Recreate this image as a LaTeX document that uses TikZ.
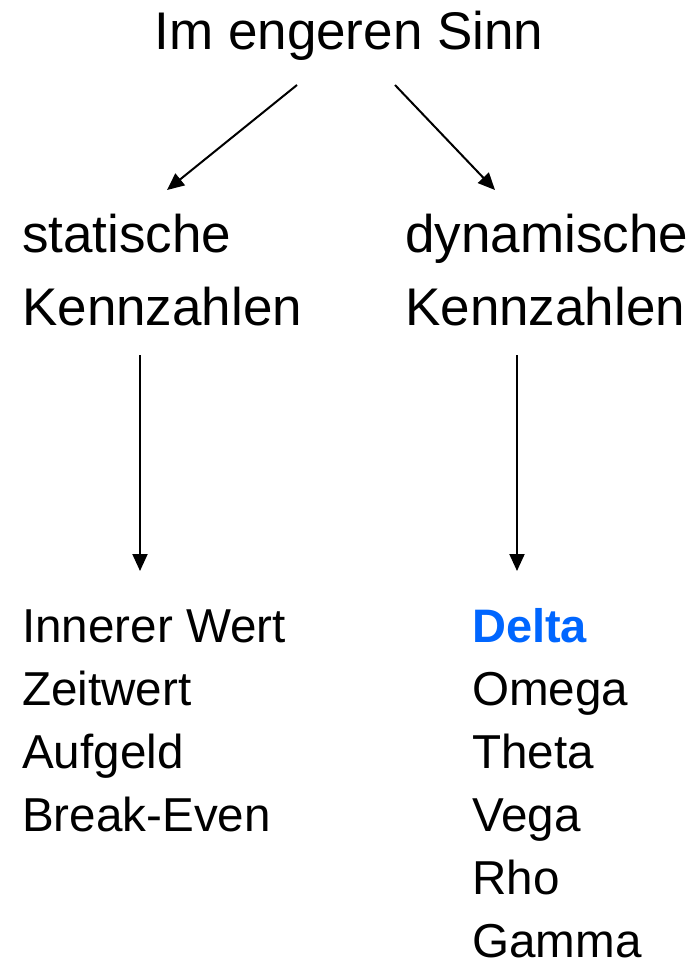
\documentclass[tikz,border=0pt]{standalone}
\usepackage{fontspec}
\setmainfont{Liberation Sans}
\usetikzlibrary{arrows.meta}
\definecolor{deltablue}{RGB}{0,102,255}
\tikzset{
  txt/.style={anchor=base west,inner sep=0pt,font=\fontsize{53}{63}\selectfont},
  listtxt/.style={txt,font=\fontsize{47.6}{63}\selectfont},
  pfeil/.style={-{Triangle[length=17pt,width=15pt]},line width=2pt}
}
\begin{document}
\begin{tikzpicture}[x=1pt,y=-1pt]
   \useasboundingbox (0,0) rectangle (696,961);
   \node[txt,anchor=base] (title) at (349,49) {Im engeren Sinn};
   \node[txt] (stat) at (22,252) {statische};
   \node[txt] (statk) at (22,325) {Kennzahlen};
   \node[txt] (dyn) at (405,252) {dynamische};
   \node[txt] (dynk) at (405,325) {Kennzahlen};
   % arrows
   \coordinate (tl) at (297,85);
   \coordinate (tr) at (395,85);
   \coordinate (sl) at (167,190);
   \coordinate (sr) at (495,190);
   \coordinate (vl1) at (140,355);
   \coordinate (vl2) at (140,571);
   \coordinate (vr1) at (517,355);
   \coordinate (vr2) at (517,571);
   \draw[pfeil] (tl) -- (sl);
   \draw[pfeil] (tr) -- (sr);
   \draw[pfeil] (vl1) -- (vl2);
   \draw[pfeil] (vr1) -- (vr2);
   % lists
   \foreach \t [count=\i] in {Innerer Wert,Zeitwert,Aufgeld,Break-Even}
      \node[listtxt] (links\i) at (22,579+63*\i) {\t};
   \node[listtxt,text=deltablue,font=\fontsize{47}{63}\selectfont\bfseries] (rechts1) at (472,642) {Delta};
   \foreach \t [count=\i from 2] in {Omega,Theta,Vega,Rho,Gamma}
      \node[listtxt] (rechts\i) at (472,579+63*\i) {\t};
\end{tikzpicture}
\end{document}
